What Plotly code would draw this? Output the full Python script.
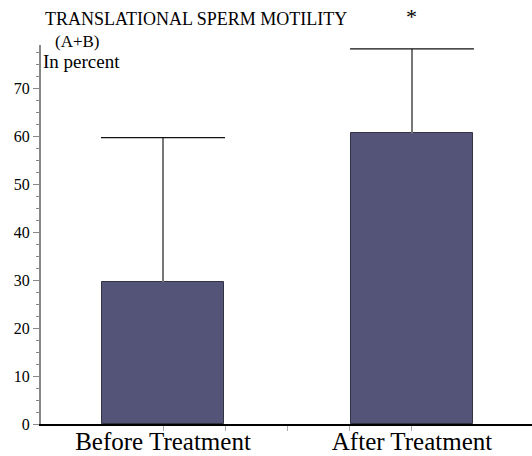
import plotly.graph_objects as go

categories = ["Before Treatment", "After Treatment"]
means = [29.6, 60.6]
sd_upper = [30.1, 17.6]
significance = ["", "*"]
y_ticks = [0, 10, 20, 30, 40, 50, 60, 70]

xpos = list(range(len(categories)))
caps = [m + s for m, s in zip(means, sd_upper)]
SERIF = "Liberation Serif, Times New Roman, serif"

fig = go.Figure()
fig.add_trace(go.Bar(
    x=xpos, y=means, width=0.49,
    marker=dict(color="#545478", line=dict(color="#333344", width=1)),
    error_y=dict(type="data", array=sd_upper, symmetric=False, arrayminus=[0, 0],
                 color="#777777", thickness=2, width=0),
    showlegend=False,
))
fig.add_trace(go.Scatter(
    x=xpos, y=caps, mode="markers",
    marker=dict(symbol="line-ew", size=124 / 1.4, line=dict(color="#111111", width=1.2)),
    showlegend=False, cliponaxis=False,
))
for xi, yi, s in zip(xpos, caps, significance):
    if s:
        fig.add_annotation(x=xi, y=yi, text=s, showarrow=False, yshift=32,
                           xanchor="center", yanchor="middle",
                           font=dict(family=SERIF, size=22, color="#000"))

fig.update_layout(
    width=532, height=456,
    margin=dict(l=41, r=0, t=45, b=32),
    plot_bgcolor="white", paper_bgcolor="white",
    font=dict(family=SERIF, color="#000"),
    bargap=0,
)
fig.update_xaxes(
    range=[-0.49, 1.482], showgrid=False, zeroline=False,
    showline=True, linecolor="#000", linewidth=1.5,
    tickvals=[0, 0.25, 0.5, 0.75, 1],
    ticktext=[categories[0], "", "", "", categories[1]],
    ticks="outside", ticklen=5, tickcolor="#aaaaaa", tickwidth=1,
    tickfont=dict(family=SERIF, size=25, color="#000"),
    ticklabelstandoff=-11,
    automargin=False,
)
fig.update_yaxes(
    range=[0, 79], showgrid=False, zeroline=False,
    showline=True, linecolor="#888888", linewidth=2,
    tickvals=y_ticks, ticks="outside", ticklen=6, tickcolor="#888888", tickwidth=1,
    tickfont=dict(family=SERIF, size=16, color="#000"),
    minor=dict(dtick=2.5, ticks="outside", ticklen=3, tickcolor="#888888", tickwidth=1, showgrid=False),
    automargin=False,
)

fig.add_annotation(text="TRANSLATIONAL SPERM MOTILITY", xref="paper", yref="paper",
                   x=0.004, y=1.0, yshift=26, xanchor="left", yanchor="middle", showarrow=False,
                   font=dict(family=SERIF, size=18, color="#000"))
fig.add_annotation(text="(A+B)", xref="paper", yref="paper",
                   x=0.024, y=1.0, yshift=4, xanchor="left", yanchor="middle", showarrow=False,
                   font=dict(family=SERIF, size=17, color="#000"))
fig.add_annotation(text="In percent", xref="paper", yref="paper",
                   x=0.0, y=1.0, yshift=-16, xanchor="left", yanchor="middle", showarrow=False,
                   font=dict(family=SERIF, size=19, color="#000"))

fig.write_html("out.html", config={"displayModeBar": False},
               post_script="document.body.style.margin='0';document.body.style.overflow='hidden';")
